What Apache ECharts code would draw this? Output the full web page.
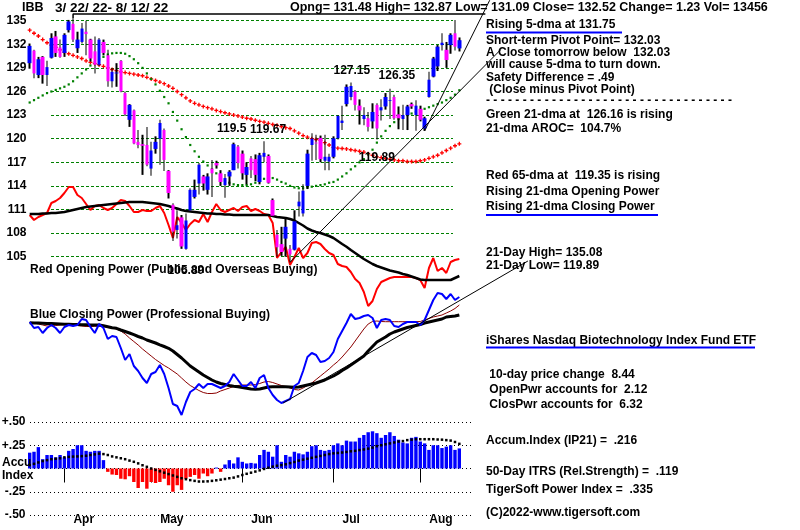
<!DOCTYPE html>
<html><head><meta charset="utf-8">
<script src="https://cdn.jsdelivr.net/npm/echarts/dist/echarts.min.js"></script>
<style>html,body{margin:0;padding:0;background:#fff}#c{width:800px;height:530px}</style>
</head><body><div id="c"></div>
<script>
// ---------- DATA ----------
const marDays = [22,23,24,25,28,29,30,31];
const aprDays = [1,4,5,6,7,8,11,12,13,14,18,19,20,21,22,25,26,27,28,29];
const mayDays = [2,3,4,5,6,9,10,11,12,13,16,17,18,19,20,23,24,25,26,27,31];
const junDays = [1,2,3,6,7,8,9,10,13,14,15,16,17,21,22,23,24,27,28,29,30];
const julDays = [1,5,6,7,8,11,12,13,14,15,18,19,20,21,22,25,26,27,28,29];
const augDays = [1,2,3,4,5,8,9,10,11,12];
const monthNames = ['Mar','Apr','May','Jun','Jul','Aug'];

const opens  = [129.6,131.2,128.1,130.4,128.1,130.3,133.0,131.6,130.9,133.8, 134.6,131.5,132.3,133.6,132.6,131.1,129.4,132.3,130.6,127.3, 128.3,129.9,125.8,122.4,123.6,119.6,119.3,119.2,116.2,118.7, 120.0,121.1,115.9,111.6,108.4,110.0,106.0,110.9,112.6,114.3, 115.2,113.5,116.2,116.9,115.6,114.1,115.2,116.0,119.0,118.1, 115.4,117.5,117.4,114.5,117.7,117.8,112.2,107.8,106.6,107.3, 106.0,105.9,111.4,110.5,114.0,119.2,119.5,120.1,117.2,117.1, 117.7,120.05,122.0,124.4,125.3,126.0,124.2,122.5,122.6,122.2, 124.3,123.6,124.1,124.8,125.3,123.1,122.5,123.0,124.4,123.0, 123.8,121.3,125.3,127.9,129.2,131.9,131.3,131.9,133.4,131.48];
const highs  = [132.1,131.3,130.4,130.5,129.9,133.4,133.7,132.6,133.4,135.1, 135.3,133.6,134.7,135.0,132.7,133.0,132.8,132.6,131.3,129.0, 129.6,130.0,126.0,124.4,123.7,121.1,120.5,121.5,119.6,120.3, 122.4,121.3,116.0,111.8,110.9,110.3,110.5,113.7,114.8,116.9, 115.4,115.6,117.3,117.2,116.0,115.5,116.0,119.5,119.2,118.5, 117.0,117.8,118.0,118.2,119.67,118.0,112.4,108.4,108.8,109.8, 106.5,110.9,113.3,114.2,118.6,120.7,120.5,120.4,120.5,118.1, 120.3,123.0,124.2,126.9,127.15,126.2,125.0,124.0,123.4,124.5, 124.5,125.0,125.8,126.35,125.6,124.1,124.3,124.3,124.6,124.9, 124.2,122.8,128.5,130.4,131.9,133.4,132.3,133.4,135.08,132.87];
const lows   = [128.9,127.7,127.7,127.0,126.7,130.2,130.4,130.3,130.4,133.5, 132.3,130.9,132.1,130.6,129.8,128.3,129.2,130.6,126.6,126.5, 126.6,125.9,122.9,121.5,119.3,118.8,115.4,116.5,115.3,118.1, 116.7,115.9,112.4,107.0,107.3,106.0,105.89,110.9,112.4,112.9, 113.4,112.9,112.6,116.2,114.0,112.5,114.0,116.0,116.2,114.8, 114.2,115.0,114.6,114.2,117.0,114.3,110.1,105.0,105.1,105.0, 104.29,105.8,110.1,110.1,113.6,117.2,117.3,117.0,116.0,116.0, 117.5,119.9,121.1,124.1,124.9,123.6,121.8,121.7,120.9,121.3, 119.89,122.3,123.7,122.5,122.4,121.2,121.1,121.1,123.8,121.0, 122.2,121.0,125.2,127.8,128.6,131.2,129.0,130.8,131.2,131.09];
const closes = [131.8,128.3,130.1,128.1,129.1,132.8,130.9,130.4,133.2,134.9, 132.6,132.6,134.0,133.3,130.2,129.4,132.6,130.9,127.3,128.5, 128.4,126.0,123.1,124.3,119.4,119.2,119.1,116.7,118.5,119.6, 122.0,117.3,113.1,108.2,109.0,106.3,109.6,113.5,113.5,116.7, 114.3,115.2,115.6,116.6,114.5,115.0,115.8,119.3,116.9,115.6, 116.4,116.0,115.4,117.9,118.2,114.4,110.2,106.2,105.6,108.8, 105.3,109.5,112.0,113.4,118.1,120.0,119.4,117.4,117.7,117.7, 120.05,122.9,122.3,126.6,126.7,124.3,123.6,123.0,121.5,123.4, 121.3,124.0,125.3,124.9,122.6,122.6,123.0,124.1,124.1,124.2, 122.4,122.6,127.5,130.2,131.7,132.2,130.0,133.2,131.7,132.52];

const ma21 = [124.6,124.9,125.2,125.5,125.8,126.0,126.2,126.4,126.6,126.9, 127.3,127.8,128.3,128.8,129.3,129.7,130.1,130.4,130.7,130.85, 130.9,130.9,130.8,130.5,130.1,129.6,129.0,128.3,127.6,126.9, 126.1,125.3,124.5,123.4,122.3,121.2,120.2,119.2,118.4,117.7, 117.1,116.6,116.1,115.6,115.1,114.7,114.4,114.2,114.1,114.1, 114.1,114.2,114.4,114.6,114.9,115.1,115.0,114.8,114.5,114.3, 114.0,113.8,113.7,113.7,113.8,113.9,114.0,114.1,114.2,114.4, 114.5,114.8,115.2,115.6,116.1,116.5,117.0,117.4,118.0,118.6, 119.5,120.3,121.0,121.6,122.1,122.5,122.8,123.0,123.2,123.4, 123.6,123.8,124.0,124.2,124.4,124.6,124.9,125.2,125.6,126.16];
const ma65 = [133.8,133.4,133.05,132.6,132.2,131.9,131.6,131.3,131.0,130.8, 130.6,130.4,130.2,129.9,129.7,129.55,129.4,129.2,129.0,128.8, 128.65,128.5,128.4,128.3,128.2,128.1,128.0,127.8,127.6,127.4, 127.2,127.0,126.7,126.4,126.0,125.6,125.2,124.8,124.5,124.3, 124.1,123.95,123.8,123.6,123.45,123.3,123.15,123.0,122.9,122.75, 122.6,122.5,122.35,122.2,122.1,121.95,121.8,121.7,121.55,121.4, 121.3,121.0,120.7,120.4,120.2,120.0,119.9,119.8,119.5,119.2, 118.9,118.8,118.75,118.7,118.6,118.5,118.4,118.3,118.1,117.9, 117.7,117.6,117.5,117.4,117.3,117.2,117.2,117.1,117.1,117.1, 117.2,117.3,117.5,117.7,117.9,118.2,118.5,118.8,119.1,119.35];

// Opening Power (relative units) and its 21-dma
const openPower = [95,90,93,95,97,107,109,112,117,123, 123,115,112,106,100,104,105,102,100,102, 106,110,109,104,98,98,100,99,99,102, 104,97,85,72,93,87,80,86,90,88, 96,88,98,106,100,98,100,102,99,103, 104,99,101,99,96,95,87,52,58,63, 45,53,62,52,57,67,68,66,61,57, 55,46,44,43,38,31,27,18,4,9, 21,28,30,32,33,33,33,33,33,32, 30,22,42,52,39,42,37,48,50,51];
const openPowerMA = [96,96,96,96.5,96.5,97,97,97.5,98,99, 100,101,102,103,103.5,104,104.5,105,105.5,106, 106.5,107,107.5,108,108,108,108,107.5,107,106.5, 106,105,104,102.5,101.5,100,99,98.5,98,97.5, 97,96.5,96.5,96,96,95.5,95.5,95,95,95, 95,95,95,95,95,95,94,93,92.5,92, 91,89.5,87,84.5,81.5,79.5,78,77,75.5,74, 72,69,66,63.3,60,57,54,51,48.5,46, 44,42.5,41,39.5,38.5,37.5,36,35,33.5,32, 30.5,30,30,30,30,30,30,30,32,34];

// Closing Power (relative units), its 21-dma and 50-dma
const closePower = [98,92,93,87,92,95,92,87,93,95, 94,95,101,100,93,87,96,92,81,84, 83,72,60,66,54,49,42,37,46,48, 55,46,32,16,14,5,18,28,31,36, 32,36,36,34,32,34,38,46,40,34, 34,38,32,42,45,32,25,20,17,19, 21,34,37,49,63,67,65,58,59,62, 68,81,89,97,106,101,102,104,105,102, 92,100,101,100,94,93,96,98,98,98, 95,100,110,120,127,126,121,126,120,123];
const closePowerMA21 = [97.3,97,96,95,94,94,94.5,95,95.5,95.5, 95,94.5,94,93.5,93.5,93.7,94,93.5,92.5,92, 91,89,86,82,78.5,75,71,67.5,64,60.5, 57.5,54.5,52,49,46,42,38,34.5,32,29.5, 27.5,26.5,26.5,27,29,30.5,32,33.5,34.5,35, 35,35,35.5,36.5,38,38.5,37.5,36,34.5,33.5, 32,30.5,30,32,34.5,37,40.5,44,47.5,51, 55,58.5,63,68,73,79,85,91,96,98.5, 99,98.5,98.3,98.3,98.3,98.3,98.3,98.3,98.3,98.3, 98.5,100,101.5,103,104,105,107,109,111.5,115];
const closePowerMA50 = [97.3,97,97,96.8,96.6,96.4,96.2,96,95.8,95.7, 95.5,95.4,95.3,95.2,95.1,95,95,94.2,93.2,92.2, 91.7,90,88.5,87,85.3,83.5,82,80,78.5,77, 75.2,73.5,71.7,69,65.5,62,58,54,51,48, 45,42.5,40,38,36.5,35.5,34.5,33.8,33.2,32.5, 31.7,31,30.7,31,32,33,33.3,33.3,33.3,33.2, 33,32.8,33,34,35,36,37,38.5,40,42, 44,46.5,49.5,52,55,58,61,64,69,73.5, 78,80.5,83,86,88,89.5,91,92.5,93.5,94.5, 95.5,97,98,99,100,101,103,103.5,104,105];

// Accumulation Index (IP21) and its moving average
const accum = [0.17,0.18,0.23,0.10,0.145,0.145,0.12,0.145,0.12,0.19, 0.21,0.25,0.25,0.19,0.18,0.19,0.19,0.09,-0.036,-0.065, -0.07,-0.11,-0.116,-0.083,-0.145,-0.21,-0.145,-0.217,-0.145,-0.156, -0.145,-0.11,-0.18,-0.25,-0.18,-0.23,-0.11,-0.09,-0.07,-0.11, -0.054,-0.083,-0.054,0.01,-0.036,0.043,0.09,0.054,0.12,0.072, 0.054,0.06,0.054,0.145,0.2,0.18,0.127,0.25,0.072,0.145, 0.127,0.18,0.163,0.152,0.18,0.24,0.25,0.2,0.19,0.2, 0.25,0.27,0.25,0.30,0.29,0.29,0.33,0.36,0.39,0.40, 0.38,0.33,0.36,0.39,0.35,0.31,0.28,0.27,0.33,0.34, 0.29,0.27,0.2,0.25,0.25,0.22,0.235,0.25,0.2,0.216];
const accumMA = [0.036,0.05,0.065,0.08,0.09,0.10,0.105,0.11,0.12,0.125, 0.128,0.13,0.133,0.137,0.145,0.152,0.16,0.155,0.145,0.13, 0.12,0.11,0.10,0.085,0.072,0.055,0.035,0.018,0,-0.015, -0.03,-0.045,-0.06,-0.075,-0.09,-0.105,-0.115,-0.125,-0.133,-0.14, -0.14,-0.138,-0.133,-0.127,-0.12,-0.113,-0.105,-0.098,-0.085,-0.07, -0.057,-0.045,-0.033,-0.02,-0.005,0.008,0.02,0.03,0.036,0.045, 0.058,0.07,0.085,0.095,0.105,0.115,0.125,0.135,0.145,0.155, 0.163,0.167,0.172,0.178,0.185,0.19,0.198,0.205,0.213,0.225, 0.24,0.25,0.26,0.27,0.28,0.29,0.295,0.305,0.31,0.315, 0.315,0.315,0.315,0.315,0.312,0.31,0.305,0.3,0.285,0.265];

// trend lines [barIndex, value]
const priceTrend1 = [[60,104.29],[108.5,131.3]];
const priceTrend2 = [[91,121.0],[106,137.6]];
const highBox = [[10,135.3],[10,135.85],[105,135.85]];
const cpTrend = [[58.4,17],[114.8,159]];

// labelled turning points
const priceMarks = [
  {i:74, kind:'high', dx:1, dy:-12},
  {i:83, kind:'high', dx:7, dy:-13},
  {i:47, kind:'high', dx:-2, dy:-13.5},
  {i:54, kind:'high', dx:4, dy:-12},
  {i:80, kind:'low', dx:0, dy:18},
  {i:36, kind:'low', dx:0, dy:21},
  {i:60, kind:'low', dx:-1, dy:18}
];
const priceTicks = {min:105, max:135, step:3};
const accumTicks = {min:-0.5, max:0.5, step:0.25};

// ---------- BUILD ----------
const monthLists = [marDays,aprDays,mayDays,junDays,julDays,augDays];
const dates = [];
const monthStarts = {};
monthLists.forEach((days, m) => {
  days.forEach((d, k) => {
    if (k === 0 && m > 0) monthStarts[dates.length] = monthNames[m];
    dates.push((m + 3) + '/' + d);
  });
});
const isStart = (idx) => monthStarts[idx] !== undefined;

const wickData = dates.map((_, i) => [lows[i], highs[i], lows[i], highs[i]]);
const bodyData = dates.map((_, i) => [opens[i], closes[i], Math.min(opens[i], closes[i]), Math.max(opens[i], closes[i])]);
const accumData = accum.map(v => ({value: v, itemStyle: {color: v >= 0 ? '#0000ff' : '#ff0000'}}));

const FONT = '"Liberation Sans", Arial, sans-serif';
const L = 27.5, R = 338.5, PW = 434;       // plot left, right margin, width (100 bars)
const PX = 7.867;                          // price grid: pixels per price unit
const gridBase = {containLabel: false, outerBoundsMode: 'none'};

const markData = priceMarks.map(m => {
  const v = m.kind === 'high' ? highs[m.i] : lows[m.i];
  return {coord: [m.i, v], value: v, label: {offset: [m.dx, m.dy]}};
});

const texts = [
  ['IBB', 22, 8, 12.5],
  ['3/ 22/ 22- 8/ 12/ 22', 55, 8, 13.5],
  ['Opng= 131.48 High= 132.87 Low= 131.09 Close= 132.52 Change= 1.23 Vol= 13456', 290, 8, 12.5],
  ['Rising 5-dma at 131.75', 486, 25],
  ['Short-term Pivot Point= 132.03', 486, 40.5],
  ['A Close tomorrow below  132.03', 486, 53],
  ['will cause 5-dma to turn down.', 486, 65],
  ['Safety Difference = .49', 486, 78],
  [' (Close minus Pivot Point)', 486, 90],
  ['- - - - - - - - - - - - - - - - - - - - - - - - - - - - - - - - - -', 486, 101],
  ['Green 21-dma at  126.16 is rising', 486, 115],
  ['21-dma AROC=  104.7%', 486, 129],
  ['Red 65-dma at  119.35 is rising', 486, 175.5],
  ['Rising 21-dma Opening Power', 486, 192],
  ['Rising 21-dma Closing Power', 486, 207],
  ['21-Day High= 135.08', 486, 253],
  ['21-Day Low= 119.89', 486, 265.5],
  ['iShares Nasdaq Biotechnology Index Fund ETF', 486, 341],
  [' 10-day price change  8.44', 486, 375],
  [' OpenPwr accounts for  2.12', 486, 390],
  [' ClosPwr accounts for  6.32', 486, 405],
  ['Accum.Index (IP21) =  .216', 486, 441],
  ['50-Day ITRS (Rel.Strength) =  .119', 486, 472],
  ['TigerSoft Power Index =  .335', 486, 490],
  ['(C)2022-www.tigersoft.com', 486, 512.5],
  ['Red Opening Power (Public and Overseas Buying)', 30, 269.5],
  ['Blue Closing Power (Professional Buying)', 30, 315],
  ['Accu', 2, 463],
  ['Index', 2, 475.5]
];
const underlines = [[486,622,32.5],[486,658,215],[486,755,347.5]];

const graphic = texts.map(t => ({
  type: 'text', x: t[1], y: t[2], z: 100,
  style: {text: t[0], font: 'bold ' + (t[3] || 12) + 'px ' + FONT, fill: '#000', verticalAlign: 'middle'}
})).concat(underlines.map(u => ({
  type: 'line', z: 100, shape: {x1: u[0], y1: u[2], x2: u[1], y2: u[2]},
  style: {stroke: '#0000ff', lineWidth: 2}
})));

const plusPath = 'path://M1,0h1v1h1v1h-1v1h-1v-1h-1v-1h1z';

// wider overlay grids for trend lines (same scale as the plots, extended to the right/up)
const extW = PW * 1.2;
const option = {
  animation: false,
  backgroundColor: '#fff',
  textStyle: {fontFamily: FONT},
  grid: [
    Object.assign({left: L, right: R, top: 20.7, height: 236}, gridBase),   // 0 price
    Object.assign({left: 51, right: 347, top: 20.7, height: 236}, gridBase),// 1 price gridlines
    Object.assign({left: L, right: R, top: 180, height: 130}, gridBase),    // 2 opening power
    Object.assign({left: L, right: R, top: 290, height: 130}, gridBase),    // 3 closing power
    Object.assign({left: L, right: R, top: 422, height: 93}, gridBase),     // 4 accum
    Object.assign({left: 30, right: 328, top: 422, height: 93}, gridBase),  // 5 accum gridlines
    Object.assign({left: L, width: extW, top: 20.7 - 5 * PX, height: 40 * PX}, gridBase), // 6 price trend overlay
    Object.assign({left: L, width: extW, top: 230, height: 190}, gridBase)  // 7 CP trend overlay
  ],
  xAxis: [
    {type: 'category', gridIndex: 0, data: dates, boundaryGap: true, show: false},
    {type: 'value', gridIndex: 1, min: 0, max: 1, show: false},
    {type: 'category', gridIndex: 2, data: dates, boundaryGap: true, show: false},
    {type: 'category', gridIndex: 3, data: dates, boundaryGap: true, show: false},
    {type: 'category', gridIndex: 4, data: dates, boundaryGap: true,
      axisLine: {show: false},
      axisTick: {show: true, alignWithLabel: true, length: 14, interval: (idx) => isStart(idx), lineStyle: {color: '#000', width: 1}},
      axisLabel: {show: true, interval: (idx) => isStart(idx), formatter: (v, idx) => monthStarts[idx] || '',
        align: 'left', padding: [0, 0, 0, 9], margin: -1, color: '#000', fontWeight: 'bold', fontSize: 12, fontFamily: FONT},
      splitLine: {show: false}},
    {type: 'value', gridIndex: 5, min: 0, max: 1, show: false},
    {type: 'value', gridIndex: 6, min: -0.5, max: 119.5, show: false},
    {type: 'value', gridIndex: 7, min: -0.5, max: 119.5, show: false}
  ],
  yAxis: [
    {type: 'value', gridIndex: 0, min: priceTicks.min, max: priceTicks.max, interval: priceTicks.step,
      axisLine: {show: false}, axisTick: {show: false}, splitLine: {show: false},
      axisLabel: {margin: 1, color: '#000', fontWeight: 'bold', fontSize: 12, fontFamily: FONT}},
    {type: 'value', gridIndex: 1, min: priceTicks.min, max: priceTicks.max, interval: priceTicks.step,
      axisLine: {show: false}, axisTick: {show: false}, axisLabel: {show: false},
      splitLine: {show: true, lineStyle: {color: '#008000', width: 1, type: [3, 2]}}},
    {type: 'value', gridIndex: 2, min: 0, max: 130, show: false, splitLine: {show: false}},
    {type: 'value', gridIndex: 3, min: 0, max: 130, show: false, splitLine: {show: false}},
    {type: 'value', gridIndex: 4, min: accumTicks.min, max: accumTicks.max, interval: accumTicks.step,
      axisLine: {show: false}, axisTick: {show: false}, splitLine: {show: false},
      axisLabel: {margin: 2, color: '#000', fontWeight: 'bold', fontSize: 12, fontFamily: FONT,
        formatter: (v) => v === 0 ? '' : (v > 0 ? '+' : '-') + Math.abs(v).toFixed(2).replace(/^0/, '')}},
    {type: 'value', gridIndex: 5, min: accumTicks.min, max: accumTicks.max, interval: accumTicks.step,
      axisLine: {show: false}, axisTick: {show: false}, axisLabel: {show: false},
      splitLine: {show: true, lineStyle: {color: '#000', width: 1, type: [1, 3]}}},
    {type: 'value', gridIndex: 6, min: 100, max: 140, show: false, splitLine: {show: false}},
    {type: 'value', gridIndex: 7, min: 0, max: 190, show: false, splitLine: {show: false}}
  ],
  graphic: graphic,
  series: [
    {name: '65-dma', type: 'line', xAxisIndex: 0, yAxisIndex: 0, data: ma65,
      symbol: plusPath, symbolSize: 4, showSymbol: true, showAllSymbol: true,
      lineStyle: {width: 0, opacity: 0}, itemStyle: {color: '#ff0000'}, z: 2},
    {name: '21-dma', type: 'line', xAxisIndex: 0, yAxisIndex: 0, data: ma21,
      symbol: 'rect', symbolSize: 2.2, showSymbol: true, showAllSymbol: true,
      lineStyle: {width: 0, opacity: 0}, itemStyle: {color: '#008000'}, z: 2},
    {name: 'Opening Power', type: 'line', xAxisIndex: 2, yAxisIndex: 2, data: openPower,
      symbol: 'none', lineStyle: {color: '#ff0000', width: 2}, z: 3},
    {name: 'Opening Power MA', type: 'line', xAxisIndex: 2, yAxisIndex: 2, data: openPowerMA,
      symbol: 'none', lineStyle: {color: '#000', width: 2.5}, z: 3},
    {name: 'Closing Power MA21', type: 'line', xAxisIndex: 3, yAxisIndex: 3, data: closePowerMA21,
      symbol: 'none', lineStyle: {color: '#8b0000', width: 1}, z: 3},
    {name: 'Closing Power MA50', type: 'line', xAxisIndex: 3, yAxisIndex: 3, data: closePowerMA50,
      symbol: 'none', lineStyle: {color: '#000', width: 3}, z: 3},
    {name: 'Closing Power', type: 'line', xAxisIndex: 3, yAxisIndex: 3, data: closePower,
      symbol: 'none', lineStyle: {color: '#0000ff', width: 2}, z: 4},
    {name: 'wicks', type: 'candlestick', xAxisIndex: 0, yAxisIndex: 0, data: wickData,
      barWidth: 2, clip: false, z: 5,
      itemStyle: {color: '#000', color0: '#000', borderColor: '#000', borderColor0: '#000', borderColorDoji: '#000', borderWidth: 0},
      markPoint: {symbol: 'circle', symbolSize: 0, data: markData,
        label: {show: true, position: 'inside', color: '#000', fontWeight: 'bold', fontSize: 12, fontFamily: FONT,
          formatter: (p) => String(p.value)}}},
    {name: 'bodies', type: 'candlestick', xAxisIndex: 0, yAxisIndex: 0, data: bodyData,
      barWidth: 4, clip: false, z: 6,
      itemStyle: {color: '#0000ff', color0: '#ff00ff', borderColor: '#0000ff', borderColor0: '#ff00ff', borderColorDoji: '#ff00ff', borderWidth: 0}},
    {name: 'trend1', type: 'line', xAxisIndex: 6, yAxisIndex: 6, data: priceTrend1, clip: false,
      symbol: 'none', lineStyle: {color: '#000', width: 1}, z: 7},
    {name: 'trend2', type: 'line', xAxisIndex: 6, yAxisIndex: 6, data: priceTrend2, clip: false,
      symbol: 'none', lineStyle: {color: '#000', width: 1}, z: 7},
    {name: 'highBox', type: 'line', xAxisIndex: 6, yAxisIndex: 6, data: highBox, clip: false,
      symbol: 'none', lineStyle: {color: '#000', width: 1.5}, z: 7},
    {name: 'cpTrend', type: 'line', xAxisIndex: 7, yAxisIndex: 7, data: cpTrend, clip: false,
      symbol: 'none', lineStyle: {color: '#000', width: 1}, z: 7},
    {name: 'Accum', type: 'bar', xAxisIndex: 4, yAxisIndex: 4, data: accumData, barWidth: 3.4, z: 3},
    {name: 'Accum MA', type: 'line', xAxisIndex: 4, yAxisIndex: 4, data: accumMA,
      symbol: 'rect', symbolSize: 2.5, showSymbol: true, showAllSymbol: true,
      lineStyle: {width: 0, opacity: 0}, itemStyle: {color: '#000'}, z: 4}
  ]
};

const chart = echarts.init(document.getElementById('c'), null, {renderer: 'canvas'});
chart.setOption(option);
</script>
</body></html>
